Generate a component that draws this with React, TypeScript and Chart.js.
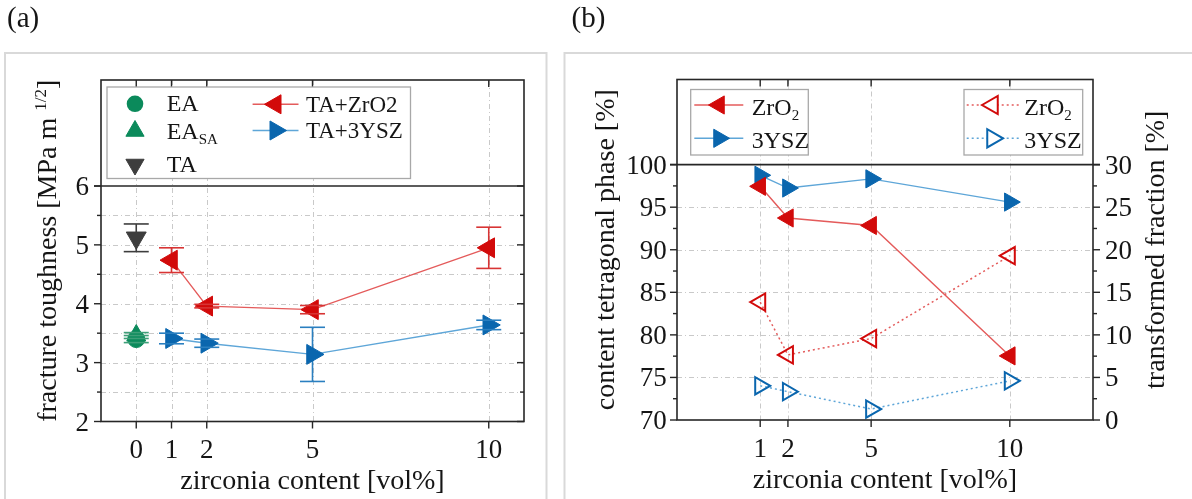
import React, { useEffect, useRef } from 'react';
import { Chart, registerables } from 'chart.js';
Chart.register(...registerables);

const SERIF = '"Liberation Serif", "Times New Roman", Times, serif';

// ---------------- panel (a) data ----------------
const A_X_TICKS = [0, 1, 2, 5, 10];
const A_Y_MAJOR = [2, 3, 4, 5, 6];
const A_Y_MINOR = [2.5, 3.5, 4.5, 5.5];
const A_LABELS = ['EA', 'EA', 'TA', 'TA+ZrO2', 'TA+3YSZ'];
const EA_X = [0];
const EA_Y = [3.4];
const EA_ERR = [0.06];
const EASA_X = [0];
const EASA_Y = [3.46];
const EASA_ERR = [0.05];
const TA_X = [0];
const TA_Y = [5.12];
const TA_ERR = [0.235];
const TAZ_X = [1, 2, 5, 10];
const TAZ_Y = [4.74, 3.96, 3.9, 4.95];
const TAZ_ERR = [0.21, 0.03, 0.07, 0.35];
const TAY_X = [1, 2, 5, 10];
const TAY_Y = [3.41, 3.33, 3.14, 3.64];
const TAY_ERR = [0.09, 0.07, 0.46, 0.08];

// ---------------- panel (b) data ----------------
const B_X = [1, 2, 5, 10];
const B_X_TICKS = [1, 2, 5, 10];
const B_Y_MAJOR = [70, 75, 80, 85, 90, 95, 100];
const B_Y_MINOR = [72.5, 77.5, 82.5, 87.5, 92.5, 97.5];
const B_Y1_MAJOR = [0, 5, 10, 15, 20, 25, 30];
const B_Y1_MINOR = [2.5, 7.5, 12.5, 17.5, 22.5, 27.5];
const TET_ZRO2 = [97.45, 93.73, 92.85, 77.53];
const TET_YSZ = [98.75, 97.25, 98.33, 95.6];
const TRF_ZRO2 = [13.85, 7.65, 9.57, 19.3];
const TRF_YSZ = [4.02, 3.33, 1.29, 4.6];

// ---------------- styles ----------------
const RED = '#D20A0A';
const RED_LINE = '#E45B5B';
const RED_ERR = '#D83434';
const BLUE = '#0A66AE';
const BLUE_LINE = '#5EA6D8';
const BLUE_ERR = '#2A7FC0';
const GREEN = '#0B8A5B';
const GREEN_ERR = '#3E9F78';
const DGRAY = '#3D3D3D';
const AXIS = '#262626';
const GRID = '#c9c9c9';
const BOX = '#d9d9d9';
const TXT = '#151515';
const DASH = [5, 3, 1, 3];

type Part = { t: string; size: number; dy?: number };

function drawRich(ctx: CanvasRenderingContext2D, parts: Part[], x: number, y: number, align: 'left' | 'center' | 'right', color = TXT) {
  let w = 0;
  for (const p of parts) {
    ctx.font = `${p.size}px ${SERIF}`;
    w += ctx.measureText(p.t).width;
  }
  let cx = align === 'left' ? x : align === 'center' ? x - w / 2 : x - w;
  ctx.textAlign = 'left';
  ctx.textBaseline = 'alphabetic';
  ctx.fillStyle = color;
  for (const p of parts) {
    ctx.font = `${p.size}px ${SERIF}`;
    ctx.fillText(p.t, cx, y + (p.dy || 0));
    cx += ctx.measureText(p.t).width;
  }
}

function drawRotated(ctx: CanvasRenderingContext2D, parts: Part[], bx: number, cy: number) {
  ctx.save();
  ctx.translate(bx, cy);
  ctx.rotate(-Math.PI / 2);
  drawRich(ctx, parts, 0, 0, 'center');
  ctx.restore();
}

function seg(ctx: CanvasRenderingContext2D, x1: number, y1: number, x2: number, y2: number) {
  ctx.beginPath();
  ctx.moveTo(x1, y1);
  ctx.lineTo(x2, y2);
  ctx.stroke();
}

function tri(ctx: CanvasRenderingContext2D, x: number, y: number, r: number, rotDeg: number, fill: string | null, stroke: string | null, lw = 1) {
  let rad = (rotDeg * Math.PI) / 180;
  ctx.beginPath();
  for (let i = 0; i < 3; i++) {
    const px = x + Math.sin(rad) * r;
    const py = y - Math.cos(rad) * r;
    if (i) ctx.lineTo(px, py);
    else ctx.moveTo(px, py);
    rad += (2 * Math.PI) / 3;
  }
  ctx.closePath();
  if (fill) {
    ctx.fillStyle = fill;
    ctx.fill();
  }
  if (stroke) {
    ctx.strokeStyle = stroke;
    ctx.lineWidth = lw;
    ctx.stroke();
  }
}

function errBars(ctx: CanvasRenderingContext2D, xs: number[], ys: number[], errs: number[], xs_: any, ys_: any, color: string, capHalf: number, part: 'stem' | 'caps') {
  ctx.save();
  ctx.strokeStyle = color;
  ctx.lineWidth = 1.6;
  ctx.setLineDash([]);
  xs.forEach((xv, i) => {
    const px = xs_.getPixelForValue(xv);
    const y1 = ys_.getPixelForValue(ys[i] + errs[i]);
    const y2 = ys_.getPixelForValue(ys[i] - errs[i]);
    if (part === 'stem') {
      seg(ctx, px, y1, px, y2);
    } else {
      seg(ctx, px - capHalf, y1, px + capHalf, y1);
      seg(ctx, px - capHalf, y2, px + capHalf, y2);
    }
  });
  ctx.restore();
}

const pts = (xs: number[], ys: number[]) => xs.map((x, i) => ({ x, y: ys[i] }));

// ---------------- panel (a) ----------------
const A_W = 556;
const B_W = 636;
const H = 499;

const plugA = {
  id: 'panelA',
  beforeDatasetsDraw(chart: any) {
    const { ctx, chartArea: ca, scales } = chart;
    const x = scales.x;
    const y = scales.y;
    ctx.save();
    ctx.strokeStyle = BOX;
    ctx.lineWidth = 2;
    ctx.strokeRect(5, 53, 541.5, 470);
    drawRich(ctx, [{ t: '(a)', size: 29 }], 7, 27, 'left');
    ctx.strokeStyle = GRID;
    ctx.lineWidth = 1;
    ctx.setLineDash(DASH);
    for (const v of A_X_TICKS) {
      const px = Math.round(x.getPixelForValue(v)) + 0.5;
      seg(ctx, px, ca.top, px, ca.bottom);
    }
    for (const v of [...A_Y_MAJOR, ...A_Y_MINOR]) {
      if (v <= 2 || v >= 6) continue;
      const py = Math.round(y.getPixelForValue(v)) + 0.5;
      seg(ctx, ca.left, py, ca.right, py);
    }
    ctx.setLineDash([]);
    errBars(ctx, EA_X, EA_Y, EA_ERR, x, y, GREEN_ERR, 12.5, 'stem');
    errBars(ctx, EASA_X, EASA_Y, EASA_ERR, x, y, GREEN_ERR, 12.5, 'stem');
    errBars(ctx, TA_X, TA_Y, TA_ERR, x, y, DGRAY, 12.5, 'stem');
    errBars(ctx, TAZ_X, TAZ_Y, TAZ_ERR, x, y, RED_ERR, 12.5, 'stem');
    errBars(ctx, TAY_X, TAY_Y, TAY_ERR, x, y, BLUE_ERR, 12.5, 'stem');
    ctx.restore();
  },
  afterDatasetsDraw(chart: any) {
    const { ctx, chartArea: ca, scales } = chart;
    const x = scales.x;
    const y = scales.y;
    ctx.save();
    errBars(ctx, EA_X, EA_Y, EA_ERR, x, y, GREEN_ERR, 12.5, 'caps');
    errBars(ctx, EASA_X, EASA_Y, EASA_ERR, x, y, GREEN_ERR, 12.5, 'caps');
    errBars(ctx, TA_X, TA_Y, TA_ERR, x, y, DGRAY, 12.5, 'caps');
    errBars(ctx, TAZ_X, TAZ_Y, TAZ_ERR, x, y, RED_ERR, 12.5, 'caps');
    errBars(ctx, TAY_X, TAY_Y, TAY_ERR, x, y, BLUE_ERR, 12.5, 'caps');

    // frame
    ctx.strokeStyle = AXIS;
    ctx.lineWidth = 1.6;
    ctx.strokeRect(ca.left, ca.top, ca.right - ca.left, ca.bottom - ca.top);
    const y6 = y.getPixelForValue(6);
    seg(ctx, ca.left - 7, y6, ca.right, y6);
    // ticks
    ctx.lineWidth = 1.4;
    for (const v of A_Y_MAJOR) {
      const py = y.getPixelForValue(v);
      seg(ctx, ca.left - 7, py, ca.left, py);
      seg(ctx, ca.right - 7, py, ca.right, py);
    }
    for (const v of A_Y_MINOR) {
      const py = y.getPixelForValue(v);
      seg(ctx, ca.left - 4, py, ca.left, py);
      seg(ctx, ca.right - 4, py, ca.right, py);
    }
    for (const v of A_X_TICKS) {
      const px = x.getPixelForValue(v);
      seg(ctx, px, ca.bottom, px, ca.bottom + 7);
      seg(ctx, px, ca.top, px, ca.top + 7);
    }
    // tick labels
    for (const v of A_Y_MAJOR) {
      drawRich(ctx, [{ t: String(v), size: 27 }], 89, y.getPixelForValue(v) + 9, 'right');
    }
    for (const v of A_X_TICKS) {
      drawRich(ctx, [{ t: String(v), size: 27 }], x.getPixelForValue(v), 458, 'center');
    }
    // titles
    drawRich(ctx, [{ t: 'zirconia content [vol%]', size: 28 }], (ca.left + ca.right) / 2, 489, 'center');
    drawRotated(ctx, [
      { t: 'fracture toughness [MPa m ', size: 28 },
      { t: '1/2', size: 17, dy: -10 },
      { t: ']', size: 28 },
    ], 56, (ca.top + ca.bottom) / 2);

    // legend
    ctx.fillStyle = '#fff';
    ctx.fillRect(107, 87, 303.5, 91.5);
    ctx.strokeStyle = '#a8a8a8';
    ctx.lineWidth = 1.3;
    ctx.strokeRect(107, 87, 303.5, 91.5);
    ctx.fillStyle = GREEN;
    ctx.beginPath();
    ctx.arc(135, 103.8, 8.3, 0, Math.PI * 2);
    ctx.fill();
    tri(ctx, 135, 131, 10.5, 0, GREEN, GREEN);
    tri(ctx, 135, 164.5, 10.5, 180, DGRAY, DGRAY);
    drawRich(ctx, [{ t: A_LABELS[0], size: 24 }], 166.7, 111, 'left');
    drawRich(ctx, [{ t: A_LABELS[1], size: 24 }, { t: 'SA', size: 15, dy: 5 }], 166.7, 139, 'left');
    drawRich(ctx, [{ t: A_LABELS[2], size: 24 }], 166.7, 171.7, 'left');
    ctx.strokeStyle = RED_LINE;
    ctx.lineWidth = 1.4;
    seg(ctx, 252.6, 104.3, 298.5, 104.3);
    tri(ctx, 275.5, 104.3, 11, 270, RED, RED);
    ctx.strokeStyle = BLUE_LINE;
    ctx.lineWidth = 1.4;
    seg(ctx, 252.6, 130.5, 298.5, 130.5);
    tri(ctx, 275.5, 130.5, 11, 90, BLUE, BLUE);
    drawRich(ctx, [{ t: A_LABELS[3], size: 23 }], 306, 111.5, 'left');
    drawRich(ctx, [{ t: A_LABELS[4], size: 23 }], 306, 138.3, 'left');
    ctx.restore();
  },
};

function makeA(canvas: HTMLCanvasElement) {
  return new Chart(canvas, {
    type: 'scatter',
    data: {
      datasets: [
        { label: A_LABELS[0], data: pts(EA_X, EA_Y), pointStyle: 'circle', pointRadius: 8.5, pointBackgroundColor: GREEN, pointBorderColor: GREEN, pointBorderWidth: 1 },
        { label: A_LABELS[1] + 'SA', data: pts(EASA_X, EASA_Y), pointStyle: 'triangle', pointRotation: 0, pointRadius: 11, pointBackgroundColor: GREEN, pointBorderColor: GREEN, pointBorderWidth: 1 },
        { label: A_LABELS[2], data: pts(TA_X, TA_Y), pointStyle: 'triangle', pointRotation: 180, pointRadius: 11.5, pointBackgroundColor: DGRAY, pointBorderColor: DGRAY, pointBorderWidth: 1 },
        { label: A_LABELS[3], data: pts(TAZ_X, TAZ_Y), showLine: true, borderColor: RED_LINE, borderWidth: 1.4, pointStyle: 'triangle', pointRotation: 270, pointRadius: 11.5, pointBackgroundColor: RED, pointBorderColor: RED, pointBorderWidth: 1 },
        { label: A_LABELS[4], data: pts(TAY_X, TAY_Y), showLine: true, borderColor: BLUE_LINE, borderWidth: 1.4, pointStyle: 'triangle', pointRotation: 90, pointRadius: 11.5, pointBackgroundColor: BLUE, pointBorderColor: BLUE, pointBorderWidth: 1 },
      ],
    } as any,
    options: {
      animation: false,
      responsive: false,
      maintainAspectRatio: false,
      events: [],
      layout: { padding: { top: 80, right: A_W - 524, left: 0, bottom: 0 } },
      plugins: { legend: { display: false }, tooltip: { enabled: false } },
      scales: {
        x: {
          type: 'linear', min: -1, max: 11,
          grid: { display: false }, border: { display: false }, ticks: { display: false },
          afterFit: (s: any) => { s.height = H - 421.5; },
        },
        y: {
          type: 'linear', min: 2, max: 7.8,
          grid: { display: false }, border: { display: false }, ticks: { display: false },
          afterFit: (s: any) => { s.width = 101; },
        },
      },
    } as any,
    plugins: [plugA],
  });
}

// ---------------- panel (b) ----------------
const plugB = {
  id: 'panelB',
  beforeDatasetsDraw(chart: any) {
    const { ctx, chartArea: ca, scales } = chart;
    const x = scales.x;
    const y = scales.y;
    ctx.save();
    ctx.strokeStyle = BOX;
    ctx.lineWidth = 2;
    ctx.strokeRect(8.5, 53, 700, 470);
    drawRich(ctx, [{ t: '(b)', size: 29 }], 15.5, 27, 'left');
    ctx.strokeStyle = GRID;
    ctx.lineWidth = 1;
    ctx.setLineDash(DASH);
    for (const v of B_X_TICKS) {
      const px = Math.round(x.getPixelForValue(v)) + 0.5;
      seg(ctx, px, ca.top, px, ca.bottom);
    }
    for (const v of B_Y_MAJOR) {
      if (v <= 70 || v >= 100) continue;
      const py = Math.round(y.getPixelForValue(v)) + 0.5;
      seg(ctx, ca.left, py, ca.right, py);
    }
    ctx.restore();
  },
  afterDatasetsDraw(chart: any) {
    const { ctx, chartArea: ca, scales } = chart;
    const x = scales.x;
    const y = scales.y;
    const y1 = scales.y1;
    ctx.save();
    ctx.strokeStyle = AXIS;
    ctx.lineWidth = 1.6;
    ctx.strokeRect(ca.left, ca.top, ca.right - ca.left, ca.bottom - ca.top);
    const y100 = y.getPixelForValue(100);
    seg(ctx, ca.left - 7, y100, ca.right + 7, y100);
    ctx.lineWidth = 1.4;
    for (const v of B_Y_MAJOR) {
      const py = y.getPixelForValue(v);
      seg(ctx, ca.left - 7, py, ca.left, py);
    }
    for (const v of B_Y_MINOR) {
      const py = y.getPixelForValue(v);
      seg(ctx, ca.left - 4, py, ca.left, py);
    }
    for (const v of B_Y1_MAJOR) {
      const py = y1.getPixelForValue(v);
      seg(ctx, ca.right, py, ca.right + 7, py);
    }
    for (const v of B_Y1_MINOR) {
      const py = y1.getPixelForValue(v);
      seg(ctx, ca.right, py, ca.right + 4, py);
    }
    for (const v of B_X_TICKS) {
      const px = x.getPixelForValue(v);
      seg(ctx, px, ca.bottom, px, ca.bottom + 7);
      seg(ctx, px, ca.top, px, ca.top + 7);
    }
    for (const v of B_Y_MAJOR) {
      drawRich(ctx, [{ t: String(v), size: 27 }], 110.7, y.getPixelForValue(v) + 9, 'right');
    }
    for (const v of B_Y1_MAJOR) {
      drawRich(ctx, [{ t: String(v), size: 27 }], 549, y1.getPixelForValue(v) + 9, 'left');
    }
    for (const v of B_X_TICKS) {
      drawRich(ctx, [{ t: String(v), size: 27 }], x.getPixelForValue(v), 456.5, 'center');
    }
    drawRich(ctx, [{ t: 'zirconia content [vol%]', size: 28 }], (ca.left + ca.right) / 2, 488, 'center');
    drawRotated(ctx, [{ t: 'content tetragonal phase [%]', size: 28 }], 57.5, (ca.top + ca.bottom) / 2);
    drawRotated(ctx, [{ t: 'transformed fraction [%]', size: 28 }], 608, (ca.top + ca.bottom) / 2);

    // left legend
    ctx.fillStyle = '#fff';
    ctx.fillRect(134.7, 89.5, 117.6, 65.5);
    ctx.strokeStyle = '#a8a8a8';
    ctx.lineWidth = 1.3;
    ctx.strokeRect(134.7, 89.5, 117.6, 65.5);
    ctx.strokeStyle = RED_LINE;
    ctx.lineWidth = 1.4;
    seg(ctx, 138.3, 105, 187.3, 105);
    tri(ctx, 163, 105, 10.5, 270, RED, RED);
    ctx.strokeStyle = BLUE_LINE;
    ctx.lineWidth = 1.4;
    seg(ctx, 138.3, 138.3, 187.3, 138.3);
    tri(ctx, 163, 138.3, 10.5, 90, BLUE, BLUE);
    drawRich(ctx, [{ t: 'ZrO', size: 24 }, { t: '2', size: 15, dy: 5 }], 195.7, 115, 'left');
    drawRich(ctx, [{ t: '3YSZ', size: 24 }], 195.7, 147.5, 'left');

    // right legend
    ctx.fillStyle = '#fff';
    ctx.fillRect(408, 89.5, 118.7, 65.5);
    ctx.strokeStyle = '#a8a8a8';
    ctx.lineWidth = 1.3;
    ctx.strokeRect(408, 89.5, 118.7, 65.5);
    ctx.setLineDash([2, 3]);
    ctx.strokeStyle = RED_LINE;
    ctx.lineWidth = 1.4;
    seg(ctx, 410.7, 105, 464, 105);
    ctx.strokeStyle = BLUE_LINE;
    seg(ctx, 410.7, 138.3, 464, 138.3);
    ctx.setLineDash([]);
    ctx.fillStyle = '#fff';
    tri(ctx, 436.5, 105, 10.5, 270, '#fff', RED, 2);
    tri(ctx, 436.5, 138.3, 10.5, 90, '#fff', BLUE, 2);
    drawRich(ctx, [{ t: 'ZrO', size: 24 }, { t: '2', size: 15, dy: 5 }], 468.3, 115, 'left');
    drawRich(ctx, [{ t: '3YSZ', size: 24 }], 468.3, 147.5, 'left');
    ctx.restore();
  },
};

function makeB(canvas: HTMLCanvasElement) {
  return new Chart(canvas, {
    type: 'scatter',
    data: {
      datasets: [
        { label: 'ZrO2', yAxisID: 'y', data: pts(B_X, TET_ZRO2), showLine: true, borderColor: RED_LINE, borderWidth: 1.4, pointStyle: 'triangle', pointRotation: 270, pointRadius: 10.5, pointBackgroundColor: RED, pointBorderColor: RED, pointBorderWidth: 1 },
        { label: '3YSZ', yAxisID: 'y', data: pts(B_X, TET_YSZ), showLine: true, borderColor: BLUE_LINE, borderWidth: 1.4, pointStyle: 'triangle', pointRotation: 90, pointRadius: 10.5, pointBackgroundColor: BLUE, pointBorderColor: BLUE, pointBorderWidth: 1 },
        { label: 'ZrO2 transformed', yAxisID: 'y1', data: pts(B_X, TRF_ZRO2), showLine: true, borderColor: RED_LINE, borderWidth: 1.5, borderDash: [2, 3], pointStyle: 'triangle', pointRotation: 270, pointRadius: 10, pointBackgroundColor: 'rgba(255,255,255,0)', pointBorderColor: RED, pointBorderWidth: 2 },
        { label: '3YSZ transformed', yAxisID: 'y1', data: pts(B_X, TRF_YSZ), showLine: true, borderColor: BLUE_LINE, borderWidth: 1.5, borderDash: [2, 3], pointStyle: 'triangle', pointRotation: 90, pointRadius: 10, pointBackgroundColor: 'rgba(255,255,255,0)', pointBorderColor: BLUE, pointBorderWidth: 2 },
      ],
    } as any,
    options: {
      animation: false,
      responsive: false,
      maintainAspectRatio: false,
      events: [],
      layout: { padding: { top: 79.5, right: 0, left: 0, bottom: 0 } },
      plugins: { legend: { display: false }, tooltip: { enabled: false } },
      scales: {
        x: {
          type: 'linear', min: -2, max: 13,
          grid: { display: false }, border: { display: false }, ticks: { display: false },
          afterFit: (s: any) => { s.height = H - 420; },
        },
        y: {
          type: 'linear', position: 'left', min: 70, max: 110,
          grid: { display: false }, border: { display: false }, ticks: { display: false },
          afterFit: (s: any) => { s.width = 121; },
        },
        y1: {
          type: 'linear', position: 'right', min: 0, max: 40,
          grid: { display: false }, border: { display: false }, ticks: { display: false },
          afterFit: (s: any) => { s.width = B_W - 537; },
        },
      },
    } as any,
    plugins: [plugB],
  });
}

export default function App() {
  const refA = useRef<HTMLCanvasElement>(null);
  const refB = useRef<HTMLCanvasElement>(null);
  useEffect(() => {
    const a = makeA(refA.current as HTMLCanvasElement);
    const b = makeB(refB.current as HTMLCanvasElement);
    return () => {
      a.destroy();
      b.destroy();
    };
  }, []);
  return (
    <div style={{ position: 'absolute', left: 0, top: 0, width: 1192, height: 499, background: '#fff', overflow: 'hidden' }}>
      <canvas ref={refA} width={A_W} height={H} style={{ position: 'absolute', left: 0, top: 0, width: A_W, height: H }} />
      <canvas ref={refB} width={B_W} height={H} style={{ position: 'absolute', left: 556, top: 0, width: B_W, height: H }} />
    </div>
  );
}
